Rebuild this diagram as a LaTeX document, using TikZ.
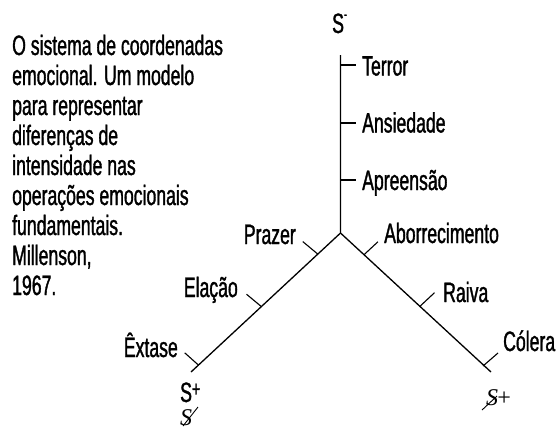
\documentclass[tikz,border=0pt]{standalone}
\usepackage{fontspec}
\setmainfont[FakeStretch=0.63,FakeBold=1.2]{Liberation Sans}
\newfontfamily\handfont{Liberation Serif}
\begin{document}
\begin{tikzpicture}[x=1pt,y=-1pt,
  lbl/.style={inner sep=0pt, font=\fontsize{28}{30}\selectfont},
  hand/.style={inner sep=0pt, font=\handfont\itshape\fontsize{24}{24}\selectfont},
  ax/.style={line width=1.3pt},
  tk/.style={line width=1.1pt},
  pen/.style={line width=0.9pt}]
\useasboundingbox (0,0) rectangle (556,429);
% text block
\foreach \t [count=\i from 0] in {O sistema de coordenadas, emocional. Um modelo, para representar, diferenças de, intensidade nas, operações emocionais, fundamentais., {Millenson,}, 1967.}
  \node[lbl, anchor=base west] (txt\i) at (12,{55+30*\i}) {\t};
% axes
\coordinate (J) at (340.5,233);
\coordinate (T) at (340.5,55);
\coordinate (L) at (191,372);
\coordinate (R) at (491,372);
\draw[ax] (T) -- (J) -- (L);
\draw[ax] (J) -- (R);
% tick points
\coordinate (v1) at (340.5,65);  \coordinate (v1e) at (356,65);
\coordinate (v2) at (340.5,123); \coordinate (v2e) at (356,123);
\coordinate (v3) at (340.5,180); \coordinate (v3e) at (356,180);
\coordinate (l1) at (317.8,254.1); \coordinate (l1e) at (302.8,241.6);
\coordinate (l2) at (261.5,306.7); \coordinate (l2e) at (246.5,294.2);
\coordinate (l3) at (198.7,365.3); \coordinate (l3e) at (184.7,352.8);
\coordinate (r1) at (363.9,254.8); \coordinate (r1e) at (377.9,241.8);
\coordinate (r2) at (419.5,306.7); \coordinate (r2e) at (434.5,292.7);
\coordinate (r3) at (483,366);     \coordinate (r3e) at (498,353);
\foreach \p in {v1,v2,v3,l1,l2,l3,r1,r2,r3} \draw[tk] (\p) -- (\p e);
% labels
\node[lbl, anchor=base west] (terror) at (362,75.5) {Terror};
\node[lbl, anchor=base west] (ansiedade) at (362,132.5) {Ansiedade};
\node[lbl, anchor=base west] (apreensao) at (362,190) {Apreensão};
\node[lbl, anchor=base west] (aborr) at (384,243) {Aborrecimento};
\node[lbl, anchor=base west] (raiva) at (443,302) {Raiva};
\node[lbl, anchor=base west] (colera) at (503,351) {Cólera};
\node[lbl, anchor=base east] (prazer) at (296,244) {Prazer};
\node[lbl, anchor=base east] (elacao) at (238,297) {Elação};
\node[lbl, anchor=base east] (extase) at (178,357) {Êxtase};
% S labels
\node[lbl, anchor=base west] (smin) at (332,33) {S\raisebox{0.5em}{\fontsize{14}{14}\selectfont -}};
\node[lbl, anchor=base west] (splusL) at (180,402) {S\raisebox{0.2em}{\fontsize{22}{22}\selectfont +}};
\node[hand, anchor=base west] (shandL) at (180,425) {S};
\coordinate (hl1) at (183,426); \coordinate (hl2) at (198,407);
\draw[pen] (hl1) -- (hl2);
\node[hand, anchor=base west] (shandR) at (486,405) {S\kern-0.1em+};
\coordinate (hr1) at (482,410); \coordinate (hr2) at (497,396);
\draw[pen] (hr1) -- (hr2);
\end{tikzpicture}
\end{document}
